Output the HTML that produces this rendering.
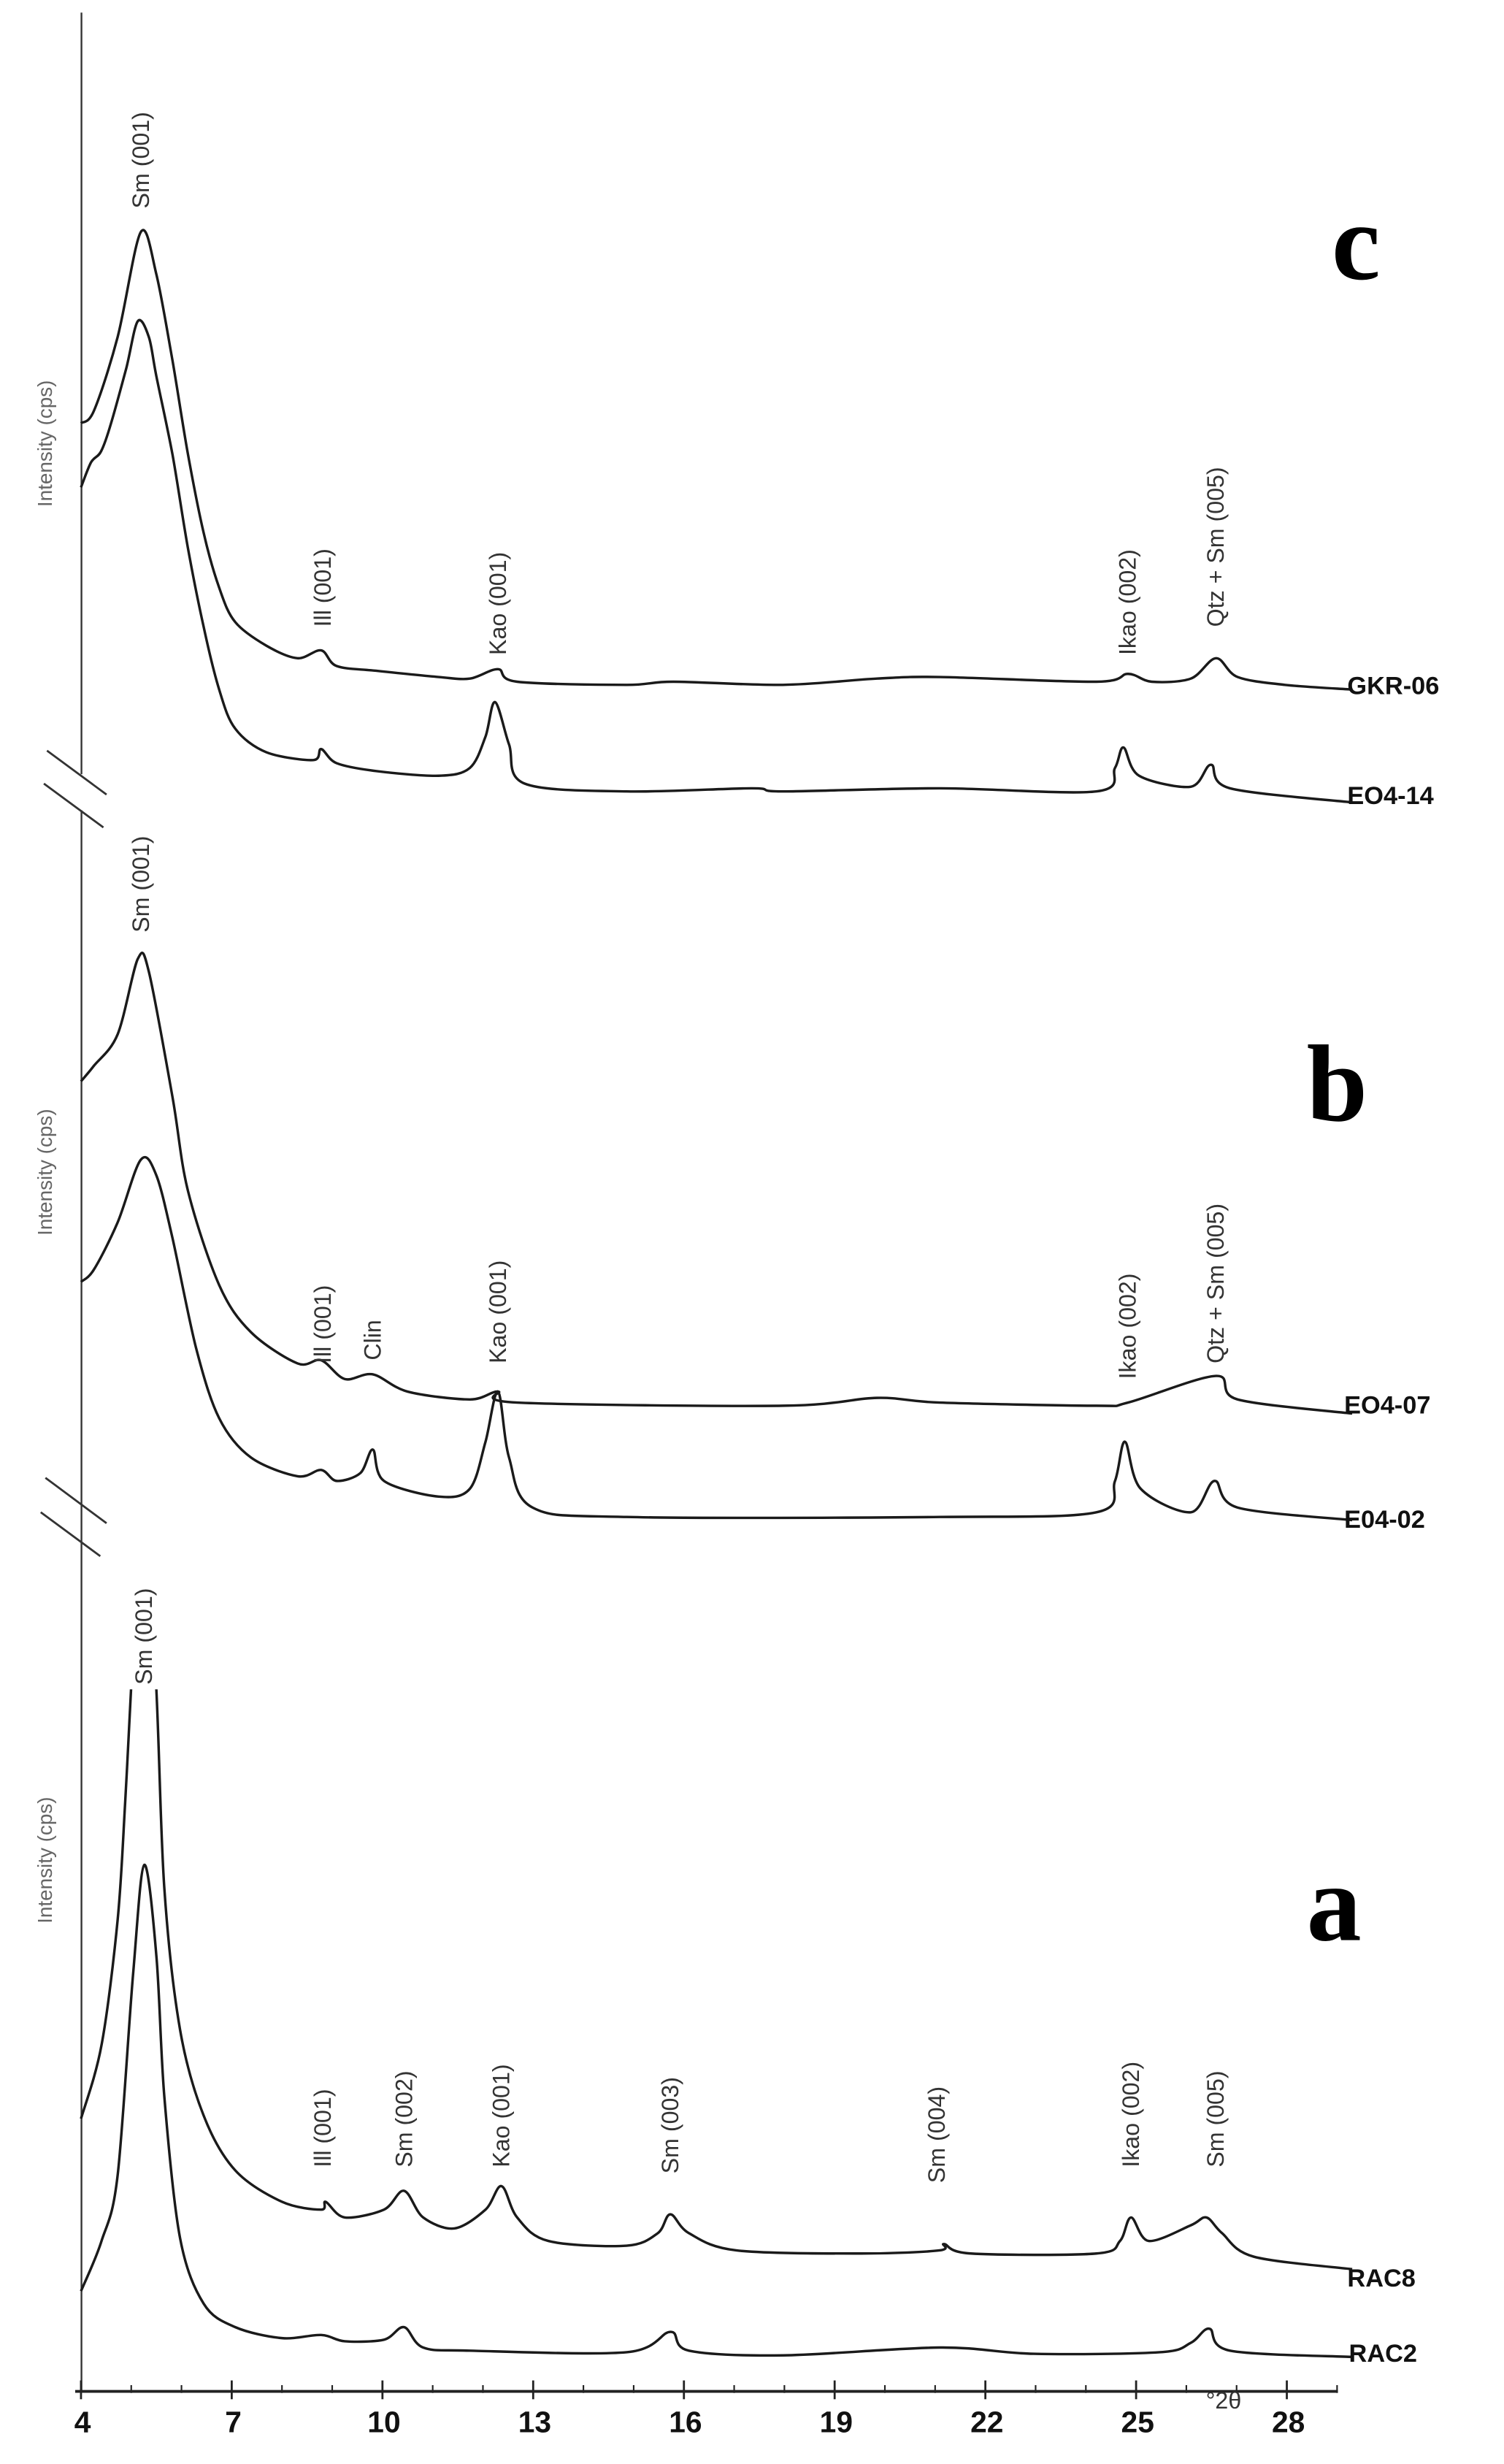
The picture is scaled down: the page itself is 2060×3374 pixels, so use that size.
<!DOCTYPE html>
<html><head><meta charset="utf-8"><title>XRD patterns</title>
<style>
html,body{margin:0;padding:0;background:#fff;}
svg{display:block;}
.pk{font-family:"Liberation Sans",sans-serif;font-size:15px;fill:#333;}
.sl{font-family:"Liberation Sans Narrow","Liberation Sans",sans-serif;font-weight:bold;font-size:16px;fill:#111;}
.tk{font-family:"Liberation Sans Narrow","Liberation Sans",sans-serif;font-weight:bold;font-size:19px;fill:#111;}
.yl{font-family:"Liberation Sans",sans-serif;font-size:13px;fill:#666;}
.pl{font-family:"Liberation Serif",serif;font-weight:bold;font-size:70px;fill:#000;}
</style></head>
<body>
<svg id="chart" width="2060" height="3374" viewBox="0 0 960 1572.3" xmlns="http://www.w3.org/2000/svg">
<defs><clipPath id="clipA"><rect x="0" y="1078" width="960" height="500"/></clipPath></defs>
<g id="axes"></g>
<g id="series"></g>
<g id="labels"></g>
</svg>
<script>
// ---- data (2θ in degrees, intensity in arbitrary cps units) ----
const xTicks = [4,7,10,13,16,19,22,25,28];
const gkr06X = [4.0,4.26,4.73,5.19,5.5,5.82,6.13,6.44,6.75,7.07,7.69,8.31,8.78,9.09,9.87,11.12,11.74,12.3,12.68,14.86,15.79,17.97,19.84,21.09,24.21,24.84,25.31,26.09,26.59,27.02,27.96,29.3];
const gkr06Y = [2500,2580,3050,3720,3450,2900,2300,1800,1450,1230,1080,1000,1050,950,920,880,870,930,850,830,850,830,870,880,850,900,850,870,1000,880,830,800];
const eo414X = [4.0,4.2,4.4,4.6,4.9,5.13,5.35,5.5,5.82,6.13,6.44,6.75,7.07,7.69,8.62,8.78,9.09,9.87,11.12,11.74,12.05,12.24,12.52,12.83,14.86,17.35,17.97,21.09,24.21,24.58,24.75,25.06,26.09,26.49,26.87,29.3];
const eo414Y = [2090,2250,2320,2500,2850,3150,3050,2800,2300,1700,1200,800,550,400,350,420,330,280,250,300,500,720,450,200,150,170,150,170,150,300,430,250,180,320,170,80];
const eo407X = [4.0,4.26,4.73,5.13,5.35,5.82,6.13,6.75,7.38,8.31,8.78,9.25,9.81,10.5,11.74,12.3,12.68,17.97,19.84,21.09,24.21,24.84,26.59,27.02,29.3];
const eo407Y = [2900,3000,3200,3680,3600,2800,2200,1600,1300,1100,1120,1000,1030,920,870,920,850,830,880,850,830,850,1020,870,780];
const e0402X = [4.0,4.26,4.73,5.19,5.5,5.82,6.29,6.75,7.38,8.31,8.78,9.09,9.56,9.81,10.03,11.12,11.74,12.05,12.3,12.52,12.99,14.86,21.09,24.21,24.58,24.78,25.09,26.09,26.56,27.02,29.3];
const e0402Y = [1620,1700,2000,2400,2300,1900,1200,750,500,380,420,350,400,550,350,250,300,600,920,500,180,120,120,150,350,600,300,150,350,180,100];
const rac8X = [4.0,4.41,4.73,4.88,5.0,5.25,5.5,5.66,5.97,6.44,7.07,8.0,8.78,8.87,9.25,10.03,10.43,10.81,11.43,12.05,12.37,12.68,13.3,14.86,15.48,15.73,16.1,17.04,19.53,21.09,21.18,21.71,24.21,24.68,24.9,25.25,26.09,26.4,26.71,27.34,29.3];
const rac8Y = [1780,2250,3050,3800,4550,6000,4520,3250,2350,1800,1450,1250,1200,1250,1150,1200,1320,1150,1080,1200,1350,1150,1000,970,1050,1170,1050,940,920,940,980,920,920,1000,1150,1000,1100,1150,1050,900,820];
const rac2X = [4.0,4.41,4.73,5.04,5.26,5.5,5.66,5.97,6.44,7.07,8.0,8.78,9.25,10.03,10.43,10.81,11.74,14.86,15.73,16.1,17.97,21.09,22.96,25.47,26.09,26.46,26.87,29.3];
const rac2Y = [680,1000,1420,2720,3400,2820,1920,1020,600,450,380,400,360,370,450,320,300,290,420,300,270,320,280,290,350,440,300,260];

const NS = "http://www.w3.org/2000/svg";
const axes = document.getElementById('axes');
const seriesG = document.getElementById('series');
const labels = document.getElementById('labels');
function xs(v){ return 51.7 + (v - 4) * 32.07; }
const panelBase = {a:1530, b:980, c:520};
function ys(panel, v){ return panelBase[panel] - v / 10; }
function mk(tag, attrs, parent){
  const e = document.createElementNS(NS, tag);
  for (const k in attrs) e.setAttribute(k, attrs[k]);
  parent.appendChild(e); return e;
}

let l1 = mk('line',{x1:52,y1:8,x2:52,y2:494,stroke:'#333','stroke-width':1.1},axes);


let l2 = mk('line',{x1:52,y1:517,x2:52,y2:1526,stroke:'#333','stroke-width':1.1},axes);


const breaks = [[30,479,68,507],[28,500,66,528],[29,943,68,972],[26,965,64,993]];
breaks.forEach(b=>{
  const s = mk('line',{x1:b[0],y1:b[1],x2:b[2],y2:b[3],stroke:'#333','stroke-width':1.3},axes);
  
  
});
let xa = mk('line',{x1:48,y1:1526,x2:854,y2:1526,stroke:'#222','stroke-width':1.8},axes);


for (let v = 4; v <= 29; v++){
  const major = xTicks.indexOf(v) >= 0;
  const t = mk('line',{x1:xs(v),y1:1526-(major?7:4),x2:xs(v),y2:1526+(major?5:1),stroke:'#222','stroke-width':major?1.3:1},axes);
  
  
}
xTicks.forEach(v=>{
  const t = mk('text',{x:xs(v)+1,y:1552,'text-anchor':'middle','class':'tk'},axes);
  t.textContent = String(v);
  
  
});
let unit = mk('text',{x:781,y:1537,'text-anchor':'middle','class':'pk','font-size':'12','fill':'#777'},axes);
unit.textContent = '°2θ';



function drawSeries(X, Y, panel, name, clip){
  const P = X.map((v,i)=>[xs(v), ys(panel, Y[i])]);
  let d = 'M' + P[0][0].toFixed(1) + ',' + P[0][1].toFixed(1);
  for (let i = 0; i < P.length - 1; i++){
    const p0 = P[Math.max(0,i-1)], p1 = P[i], p2 = P[i+1], p3 = P[Math.min(P.length-1,i+2)];
    const t = 0.16;
    const c1x = p1[0] + (p2[0]-p0[0])*t, c1y = p1[1] + (p2[1]-p0[1])*t;
    const c2x = p2[0] - (p3[0]-p1[0])*t, c2y = p2[1] - (p3[1]-p1[1])*t;
    d += ' C' + c1x.toFixed(1)+','+c1y.toFixed(1)+' '+c2x.toFixed(1)+','+c2y.toFixed(1)+' '+p2[0].toFixed(1)+','+p2[1].toFixed(1);
  }
  const p = mk('path',{d:d,fill:'none',stroke:'#1a1a1a','stroke-width':1.6,'stroke-linejoin':'round'},seriesG);
  if (clip) p.setAttribute('clip-path','url(#clipA)');
  
  
}
drawSeries(gkr06X,gkr06Y,'c','series-gkr-06');
drawSeries(eo414X,eo414Y,'c','series-eo4-14');
drawSeries(eo407X,eo407Y,'b','series-eo4-07');
drawSeries(e0402X,e0402Y,'b','series-e04-02');
drawSeries(rac8X,rac8Y,'a','series-rac8',true);
drawSeries(rac2X,rac2Y,'a','series-rac2');

const peakLabels = [
 ['Sm (001)',90,133],['Ill (001)',206,400],['Kao (001)',318,418],['Ikao (002)',720,418],['Qtz + Sm (005)',776,400],
 ['Sm (001)',90,595],['Ill (001)',206,870],['Clin',238,868],['Kao (001)',318,870],['Ikao (002)',720,880],['Qtz + Sm (005)',776,870],
 ['Sm (001)',92,1075],['Ill (001)',206,1383],['Sm (002)',258,1383],['Kao (001)',320,1383],['Sm (003)',428,1387],['Sm (004)',598,1393],['Ikao (002)',722,1383],['Sm (005)',776,1383]
];
peakLabels.forEach(p=>{
  const t = mk('text',{x:0,y:0,'class':'pk',transform:'translate('+(p[1]+5)+','+p[2]+') rotate(-90)'},labels);
  t.textContent = p[0];
  
  
});
[283,748,1187].forEach(y=>{
  const t = mk('text',{x:0,y:0,'class':'yl','text-anchor':'middle',transform:'translate(33,'+y+') rotate(-90)'},labels);
  t.textContent = 'Intensity (cps)';
  
  
});
const sampleLabels = [['GKR-06',860,443],['EO4-14',860,513],['EO4-07',858,902],['E04-02',858,975],['RAC8',860,1459],['RAC2',861,1507]];
sampleLabels.forEach(s=>{
  const t = mk('text',{x:s[1],y:s[2],'class':'sl'},labels);
  t.textContent = s[0];
  
  
});
[['c',850,178],['b',834,715],['a',834,1238]].forEach(p=>{
  const t = mk('text',{x:p[1],y:p[2],'class':'pl'},labels);
  t.textContent = p[0];
  
  
});
</script>
</body></html>
